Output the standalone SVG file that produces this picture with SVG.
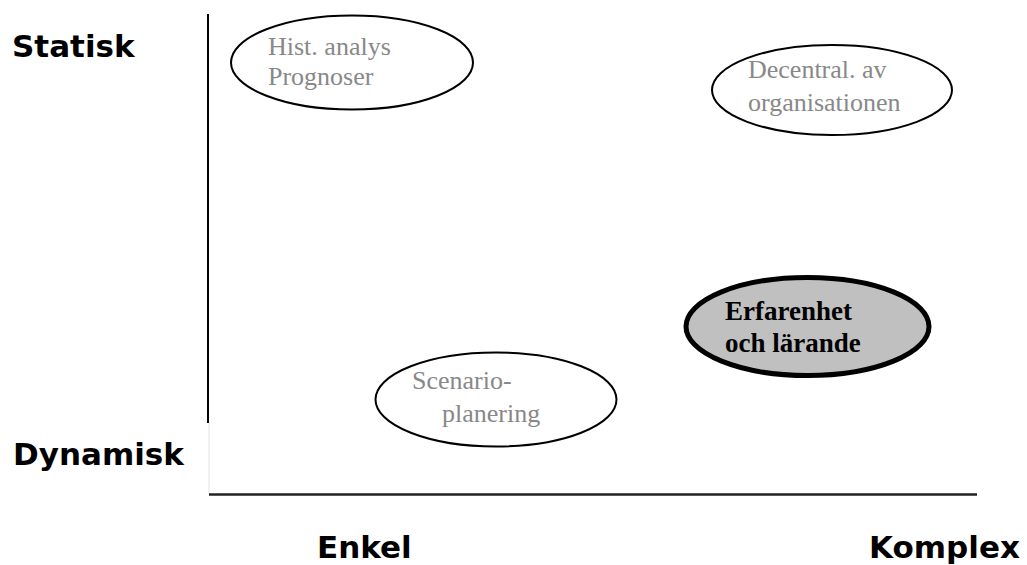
<svg xmlns="http://www.w3.org/2000/svg" width="1027" height="565" viewBox="0 0 1027 565">
  <style>
    .axis-label { font-family: "DejaVu Sans", Verdana, sans-serif; font-weight: bold; font-size: 31px; fill: #000; }
    .oval { fill: #fff; stroke: #000; stroke-width: 2; }
    .oval-key { fill: #c0c0c0; stroke: #000; stroke-width: 5; }
    .oval-text { font-family: "Liberation Serif", "Times New Roman", serif; font-size: 26px; fill: #888; }
    .oval-key-text { font-family: "Liberation Serif", "Times New Roman", serif; font-size: 27px; font-weight: bold; fill: #000; }
  </style>
  <rect width="1027" height="565" fill="#fff"/>

  <!-- axes -->
  <g id="axes">
    <line x1="208" y1="14" x2="208" y2="423" stroke="#000" stroke-width="2"/>
    <line x1="209" y1="423" x2="209" y2="493" stroke="#e2e2e2" stroke-width="1"/>
    <line x1="209" y1="494.5" x2="977" y2="494.5" stroke="#222" stroke-width="2.5"/>
  </g>

  <!-- axis labels -->
  <g id="labels">
    <text class="axis-label" x="12" y="57">Statisk</text>
    <text class="axis-label" x="13" y="465">Dynamisk</text>
    <text class="axis-label" x="317" y="558">Enkel</text>
    <text class="axis-label" x="869" y="558">Komplex</text>
  </g>

  <g id="hist-analys">
    <ellipse class="oval" cx="352" cy="62.5" rx="121" ry="47"/>
    <text class="oval-text" x="268" y="55">Hist. analys</text>
    <text class="oval-text" x="268" y="85">Prognoser</text>
  </g>

  <g id="decentral">
    <ellipse class="oval" cx="832" cy="90" rx="120" ry="45"/>
    <text class="oval-text" x="748" y="78">Decentral. av</text>
    <text class="oval-text" x="748" y="111">organisationen</text>
  </g>

  <g id="erfarenhet">
    <ellipse class="oval-key" cx="807.5" cy="326.5" rx="121.5" ry="49"/>
    <text class="oval-key-text" x="725" y="320">Erfarenhet</text>
    <text class="oval-key-text" x="725" y="352">och lärande</text>
  </g>

  <g id="scenario">
    <ellipse class="oval" cx="496" cy="399.5" rx="120.5" ry="47"/>
    <text class="oval-text" x="412" y="389">Scenario-</text>
    <text class="oval-text" x="442" y="422">planering</text>
  </g>

  <g id="connectors"></g>
</svg>
